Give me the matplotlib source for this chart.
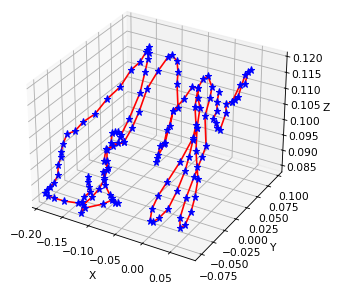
import numpy as np
import matplotlib
matplotlib.use("Agg")
import matplotlib.pyplot as plt

W, H = 347, 290
DPI = 78
plt.rcParams['font.size'] = 9.8

# main stroke, values (units of 1e-4 for x and y)
x_a = [-1152,-1116,-1066,-1016,-1063,-1055,-1102,-1309,-1467,-1564,-1627,-1622,-1602,-1577,-1581,-1656,-1675,-1713,-1747,-1769,-1680,-1639,-1534,-1484,-1397,-1380,-1318,-1316,-1315,-1318,-1264,-1228,-1164,-1066,-1017,-1007,-1072,-1114,-1148,-1086,-988,-1006,-912,-1110,-1049,-942,-982,-925,-860,-721,-672,-596,-555,-658,-753,
       -971,-991,-1020,-953,-914,-910,-941,-1007,-1089,-1035,-912,-906,-931,-998,-987,-958,-918,-797,-693,-612,-412,-460,-389,-401,-340,-381,-344,-321,-336,-334,-460,-397,-376,-283,-181,-32,20,11,-28,-55,-48,5,53,108,170,172,144,101,35,4,-103,-206,-283,-282,-234,-92,-37,27,259,281,310,343,394,460,508,505,459,378,282,155,4]
y_a = [-713,-751,-785,-818,-887,-936,-964,-1021,-1049,-1065,-1058,-1025,-986,-935,-852,-774,-695,-655,-580,-478,-411,-295,-164,28,203,414,536,661,724,685,668,606,471,256,-27,-203,-194,-210,-234,-321,-285,-225,-245,-396,-503,-538,-596,-638,-687,-738,-751,-773,-758,-766,-843,
       -965,-1023,-953,-846,-749,-653,-559,-488,-399,-335,-245,-87,85,329,549,733,773,744,647,533,326,274,129,80,-52,-90,-174,-241,-203,-39,274,437,586,609,425,275,149,-116,-343,-499,-629,-730,-722,-661,-547,-362,-163,-29,132,254,442,520,609,717,771,692,583,399,151,39,-164,-370,-554,-629,-581,-452,-316,-159,-68,57,254]
z_a = [.09521,.09436,.09351,.09266,.09181,.09096,.09079,.09113,.09164,.09198,.09249,.093,.09351,.09419,.09555,.09725,.09861,.09946,.10082,.10252,.10303,.10456,.10592,.10847,.11051,.1134,.11476,.11646,.11731,.1168,.11629,.11527,.11306,.10949,.10507,.10235,.10286,.10286,.10269,.10099,.10099,.10201,.10116,.09997,.09793,.09674,.09606,.09504,.09385,.09215,.09164,.09079,.09079,.0913,.09062,
       .08994,.08909,.09045,.09181,.09317,.0947,.0964,.09793,.0998,.10048,.10116,.10354,.10626,.11017,.11323,.11561,.11595,.11493,.11306,.11102,.10694,.10643,.10388,.1032,.10082,.10048,.09895,.09776,.09844,.10099,.10643,.10847,.11051,.11034,.10711,.10405,.10184,.09776,.09436,.09198,.08977,.08773,.08756,.08824,.08977,.09283,.09623,.09861,.1015,.10354,.10694,.10864,.11034,.11187,.11238,.11051,.10864,.10558,.10048,.09861,.09521,.09164,.08824,.08654,.08705,.08926,.09181,.09487,.09691,.09963,.10354]

# short stroke on the right
x_b = [45,92,159,162,233,283,340,300,234,304,331,351,285,332,305,353,290,304]
y_b = [685,585,506,416,397,359,358,536,615,665,698,741,978,1057,1022,895,860,665]
z_b = [.10966,.10796,.10643,.10507,.10439,.10354,.1032,.10609,.10762,.10796,.1083,.10881,.11255,.1134,.11306,.11102,.11085,.10796]

fig = plt.figure(figsize=((W+.01)/DPI, (H+.01)/DPI), dpi=DPI)
ax = fig.add_axes([10.5/W, 11/H, 290/W, 290/H], projection='3d')

for xs, ys, zs in ((x_a, y_a, z_a), (x_b, y_b, z_b)):
    xs = np.array(xs) / 10000
    ys = np.array(ys) / 10000
    ax.plot(xs, ys, zs, '-', color='red')
    ax.plot(xs, ys, zs, '*', color='blue', ms=6.5)

ax.set_xlim(-0.208, 0.095)
ax.set_ylim(-0.088, 0.109)
ax.set_zlim(0.0828, 0.1213)
ax.set_xlabel('X', labelpad=7)
ax.set_ylabel('Y', labelpad=7)
ax.set_zlabel('Z', labelpad=3)
ax.tick_params(axis='x', pad=6)
ax.tick_params(axis='y', pad=6)

fig.savefig('out.png', dpi=DPI)
